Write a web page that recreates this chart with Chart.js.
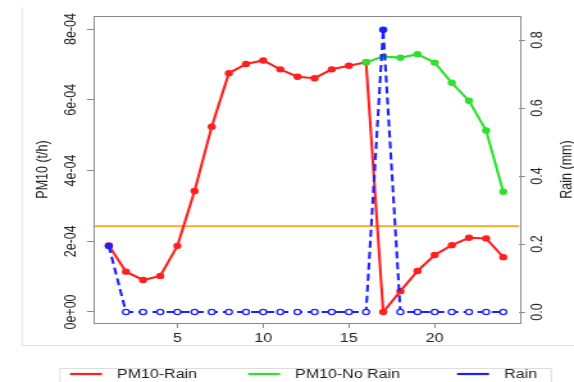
<!DOCTYPE html>
<html><head><meta charset="utf-8">
<script src="https://cdn.jsdelivr.net/npm/chart.js@4/dist/chart.umd.min.js"></script>
<style>html,body{margin:0;padding:0;background:#fff;overflow:hidden}
#c{display:block}</style>
</head><body>
<canvas id="c" width="448" height="382" style="width:574px;height:382px"></canvas>
<script>
// ---- data ----
const hours = [1,2,3,4,5,6,7,8,9,10,11,12,13,14,15,16,17,18,19,20,21,22,23,24];
const pm10Rain = [1.88e-4,1.14e-4,0.905e-4,1.02e-4,1.87e-4,3.42e-4,5.24e-4,6.75e-4,7.01e-4,7.11e-4,6.86e-4,6.65e-4,
                  6.61e-4,6.86e-4,6.96e-4,7.06e-4,0,0.59e-4,1.16e-4,1.61e-4,1.89e-4,2.10e-4,2.08e-4,1.55e-4];
const pm10NoRain = [null,null,null,null,null,null,null,null,null,null,null,null,null,null,null,
                    7.06e-4,7.22e-4,7.19e-4,7.29e-4,7.05e-4,6.48e-4,5.97e-4,5.13e-4,3.40e-4];
const rain = [0.194,0,0,0,0,0,0,0,0,0,0,0,0,0,0,0,0.83,0,0,0,0,0,0,0];
const threshold = 2.43e-4;
const seriesNames = ['PM10-Rain','PM10-No Rain','Rain'];
const xTicks = [5,10,15,20];
const leftTicks = [0,2e-4,4e-4,6e-4,8e-4];
const leftTickLabels = ['0e+00','2e-04','4e-04','6e-04','8e-04'];
const rightTicks = [0,0.2,0.4,0.6,0.8];
const rightTickLabels = ['0.0','0.2','0.4','0.6','0.8'];
const leftTitle = 'PM10 (t/h)';
const rightTitle = 'Rain (mm)';

// ---- styles ----
const RED = '#ff1f1f', GREEN = '#2ee02e', BLUE = '#1f1fff', ORANGE = '#ffa526';
const FRAME = '#8a8a8a', TEXT = '#222222';
const FONT = '"Liberation Sans", Arial, sans-serif';
const FS = 12.5;

const ctx = document.getElementById('c').getContext('2d');

const decor = {
  id: 'decor',
  beforeDatasetsDraw(chart) {
    const c = chart.ctx, a = chart.chartArea, y = chart.scales.y;
    c.save();
    const ty = y.getPixelForValue(threshold);
    c.strokeStyle = ORANGE; c.lineWidth = 1.7;
    c.beginPath(); c.moveTo(a.left, ty); c.lineTo(a.right, ty); c.stroke();
    c.strokeStyle = FRAME; c.lineWidth = 1;
    c.strokeRect(Math.round(a.left) + 0.5, Math.round(a.top) + 0.5,
                 Math.round(a.right - a.left), Math.round(a.bottom - a.top));
    c.restore();
  },
  afterDraw(chart) {
    const c = chart.ctx, a = chart.chartArea;
    const yl = chart.scales.y, yr = chart.scales.y2;
    c.save();
    c.fillStyle = TEXT;
    c.font = FS + 'px ' + FONT;
    const vtext = (t, x, y) => {
      c.save(); c.translate(x, y); c.rotate(-Math.PI / 2);
      c.textAlign = 'center'; c.textBaseline = 'middle';
      c.fillText(t, 0, 0); c.restore();
    };
    leftTicks.forEach((v, i) => vtext(leftTickLabels[i], 55.6, yl.getPixelForValue(v)));
    rightTicks.forEach((v, i) => vtext(rightTickLabels[i], 419.6, yr.getPixelForValue(v)));
    const cy = (a.top + a.bottom) / 2;
    vtext(leftTitle, 33.8, cy);
    vtext(rightTitle, 442.3, cy);

    c.strokeStyle = '#e2e2e2'; c.lineWidth = 1;
    c.beginPath(); c.moveTo(17.2, 7); c.lineTo(17.2, 345.5); c.lineTo(448, 345.5); c.stroke();
    c.strokeStyle = '#dddddd';
    c.beginPath(); c.moveTo(46.8, 390); c.lineTo(46.8, 368.5); c.lineTo(430.3, 368.5); c.lineTo(430.3, 390); c.stroke();
    const starts = [54.6, 193.6, 356.7];
    const cols = [RED, GREEN, BLUE];
    c.textAlign = 'left'; c.textBaseline = 'middle';
    seriesNames.forEach((n, i) => {
      c.strokeStyle = cols[i]; c.lineWidth = 2.2;
      c.beginPath(); c.moveTo(starts[i], 374); c.lineTo(starts[i] + 25, 374); c.stroke();
      c.fillStyle = TEXT;
      c.fillText(n, starts[i] + 36.7, 374.5);
    });
    c.restore();
  }
};

new Chart(ctx, {
  type: 'line',
  data: {
    labels: hours,
    datasets: [
      {
        label: seriesNames[2], yAxisID: 'y2', order: 0,
        data: hours.map((h, i) => ({x: h, y: rain[i]})),
        borderColor: BLUE, borderWidth: 2.1, borderDash: [7, 4],
        pointRadius: 2.6, pointBorderWidth: 1.3, pointBorderColor: BLUE,
        pointBackgroundColor: rain.map(v => v > 0 ? BLUE : '#ffffff'),
        tension: 0, fill: false
      },
      {
        label: seriesNames[1], yAxisID: 'y', order: 1,
        data: hours.map((h, i) => ({x: h, y: pm10NoRain[i]})),
        borderColor: GREEN, borderWidth: 2.1, pointRadius: 3.2, pointBorderWidth: 0,
        pointBackgroundColor: GREEN, tension: 0, fill: false, spanGaps: false
      },
      {
        label: seriesNames[0], yAxisID: 'y', order: 2,
        data: hours.map((h, i) => ({x: h, y: pm10Rain[i]})),
        borderColor: RED, borderWidth: 2.1, pointRadius: 3.2, pointBorderWidth: 0,
        pointBackgroundColor: RED, tension: 0, fill: false
      }
    ]
  },
  options: {
    responsive: false, animation: false, devicePixelRatio: 1,
    layout: {padding: {top: 16, left: 0, right: 0, bottom: 0}},
    plugins: {legend: {display: false}, tooltip: {enabled: false}},
    scales: {
      x: {
        type: 'linear', position: 'bottom', min: 0.08, max: 24.92,
        afterBuildTicks: s => { s.ticks = xTicks.map(v => ({value: v})); },
        afterFit: s => { s.height = 59; },
        grid: {drawOnChartArea: false, drawTicks: true, tickLength: 5, color: FRAME},
        border: {display: false},
        ticks: {color: TEXT, font: {family: FONT, size: FS}, padding: 3, maxRotation: 0}
      },
      y: {
        type: 'linear', position: 'left', min: -3.11e-5, max: 8.368e-4,
        afterBuildTicks: s => { s.ticks = leftTicks.map(v => ({value: v})); },
        afterFit: s => { s.width = 72.6; },
        grid: {drawOnChartArea: false, drawTicks: true, tickLength: 4.7, color: FRAME},
        border: {display: false},
        ticks: {display: false}
      },
      y2: {
        type: 'linear', position: 'right', min: -0.03235, max: 0.8706,
        afterBuildTicks: s => { s.ticks = rightTicks.map(v => ({value: v})); },
        afterFit: s => { s.width = 42.9; },
        grid: {drawOnChartArea: false, drawTicks: true, tickLength: 4.7, color: FRAME},
        border: {display: false},
        ticks: {display: false}
      }
    }
  },
  plugins: [decor]
});
</script>
</body></html>
